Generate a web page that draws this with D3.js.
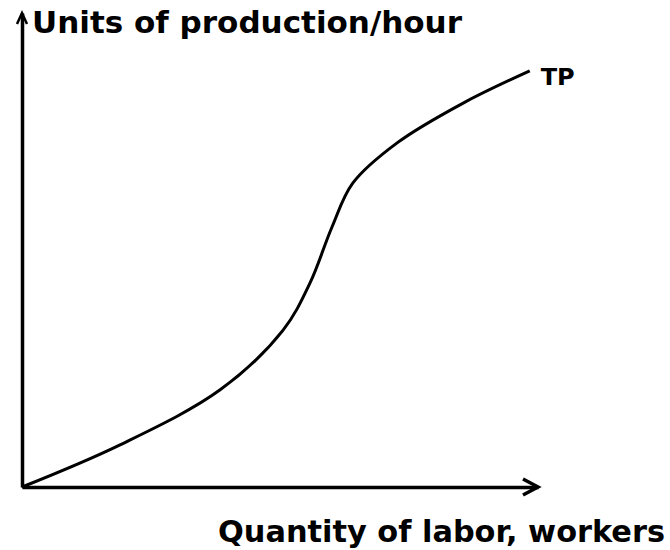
<!DOCTYPE html>
<html>
<head>
<meta charset="utf-8">
<script src="https://cdn.jsdelivr.net/npm/d3@7"></script>
<style>
  body { margin: 0; background: #fff; }
  text { font-family: "DejaVu Sans", Verdana, sans-serif; font-weight: bold; fill: #000; }
</style>
</head>
<body>
<script>
// total product curve (labor 0-100, output 0-100)
var labor  = [0, 19.0, 38.4, 50.6, 55.8, 60.1, 64.1, 72.7, 85.5, 98.4];
var output = [0, 8.9, 20.5, 33.1, 43.0, 54.9, 64.1, 72.6, 81.0, 87.8];
var yTitle = "Units of production/hour";
var xTitle = "Quantity of labor, workers";
var curveLabel = "TP";

var width = 670, height = 550;
var svg = d3.select('body').append('svg')
    .attr('width', width)
    .attr('height', height);

var x = d3.scaleLinear().domain([0, 100]).range([22, 538]);
var y = d3.scaleLinear().domain([0, 100]).range([487, 13]);

// axes: bare lines, no ticks
svg.append('g')
    .attr('transform', 'translate(0,' + y(0) + ')')
    .call(d3.axisBottom(x).tickValues([]).tickSizeOuter(0));
svg.append('g')
    .attr('transform', 'translate(' + x(0) + ',0)')
    .call(d3.axisLeft(y).tickValues([]).tickSizeOuter(0));
svg.selectAll('.domain')
    .attr('stroke', '#000')
    .attr('stroke-width', 3.5);

// arrow heads
var xEnd = x.range()[1], yEnd = y.range()[1];
svg.append('path')
    .attr('d', 'M' + (xEnd - 15) + ',' + (y(0) - 8) + 'L' + xEnd + ',' + y(0) + 'L' + (xEnd - 15) + ',' + (y(0) + 8))
    .attr('fill', 'none').attr('stroke', '#000').attr('stroke-width', 3.5);
svg.append('path')
    .attr('d', 'M' + (x(0) - 5) + ',' + (yEnd + 11) + 'L' + x(0) + ',' + yEnd + 'L' + (x(0) + 5) + ',' + (yEnd + 11))
    .attr('fill', 'none').attr('stroke', '#000').attr('stroke-width', 2.5);

// TP curve
var pts = labor.map(function(d, i){ return [d, output[i]]; });
var line = d3.line()
    .x(function(d){ return x(d[0]); })
    .y(function(d){ return y(d[1]); })
    .curve(d3.curveCatmullRom.alpha(0.5));
svg.append('path')
    .datum(pts)
    .attr('d', line)
    .attr('fill', 'none')
    .attr('stroke', '#000')
    .attr('stroke-width', 3);

var last = pts[pts.length - 1];
svg.append('text')
    .attr('x', x(last[0]) + 11)
    .attr('y', y(last[1]) + 14)
    .attr('textLength', 34)
    .attr('lengthAdjust', 'spacingAndGlyphs')
    .style('font-size', '23px')
    .text(curveLabel);

svg.append('text')
    .attr('x', 32)
    .attr('y', 33)
    .attr('textLength', 430)
    .attr('lengthAdjust', 'spacingAndGlyphs')
    .style('font-size', '29.5px')
    .text(yTitle);

svg.append('text')
    .attr('x', 218)
    .attr('y', 542)
    .attr('textLength', 447)
    .attr('lengthAdjust', 'spacingAndGlyphs')
    .style('font-size', '29.5px')
    .text(xTitle);
</script>
</body>
</html>
